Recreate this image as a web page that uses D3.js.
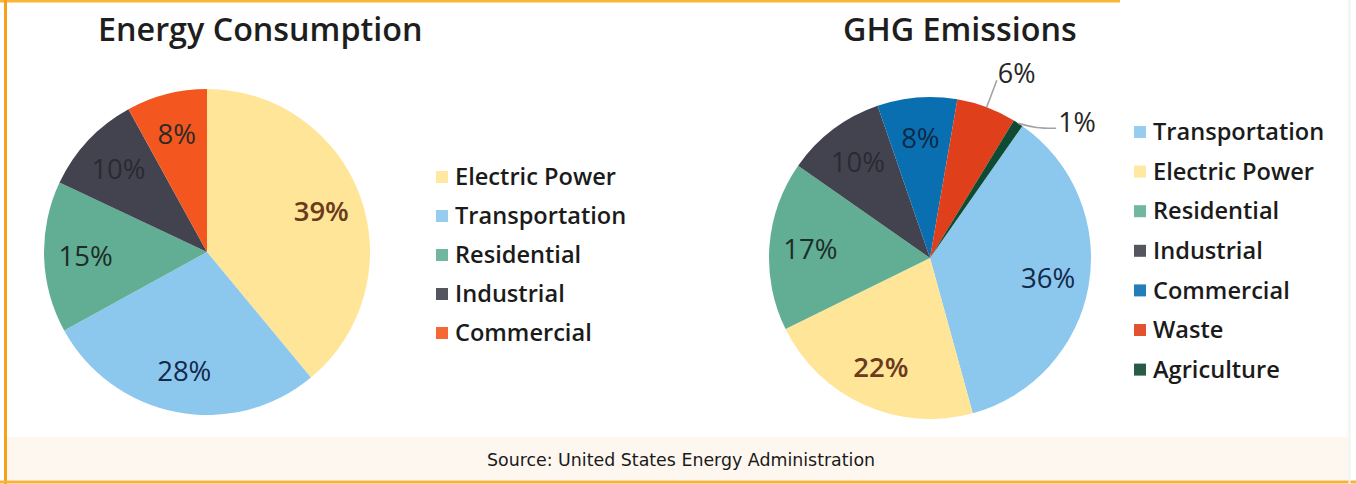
<!DOCTYPE html>
<html>
<head>
<meta charset="utf-8">
<script src="https://cdn.jsdelivr.net/npm/d3@7/dist/d3.min.js"></script>
<style>
  html, body { margin: 0; padding: 0; background: #ffffff; }
  svg { display: block; }
</style>
</head>
<body>
<svg id="chart" width="1356" height="484"></svg>
<script>
// Energy consumption by sector (percent)
const energyCategories = ["Electric Power", "Transportation", "Residential", "Industrial", "Commercial"];
const energyValues = [39, 28, 15, 10, 8];

// Greenhouse gas emissions by sector (percent)
const ghgCategories = ["Transportation", "Electric Power", "Residential", "Industrial", "Commercial", "Waste", "Agriculture"];
const ghgValues = [36, 22, 17, 10, 8, 6, 1];

const titles = ["Energy Consumption", "GHG Emissions"];
const sourceText = "Source: United States Energy Administration";

// sector colours
const sectorColor = {
  "Electric Power": "#ffe598",
  "Transportation": "#8cc7ed",
  "Residential": "#62ae95",
  "Industrial": "#43434f",
  "Commercial": "#f4561f",
  "Waste": "#df3f1b",
  "Agriculture": "#0f4a33"
};
const ghgColor = Object.assign({}, sectorColor, { "Commercial": "#0a6fb1" });

const labelColor = {
  "Electric Power": "#6a3b1c",
  "Transportation": "#12294a",
  "Residential": "#1d2d27",
  "Industrial": "#2a2a33",
  "Commercial": "#2e2a28"
};
const ghgLabelColor = Object.assign({}, labelColor, { "Commercial": "#0b2a47" });

const svg = d3.select("#chart");
const W = 1356, H = 484;
const FONT = "'Open Sans', 'Noto Sans', sans-serif";

// footer band and page frame
svg.append("rect").attr("x", 0).attr("y", 0).attr("width", W).attr("height", H).attr("fill", "#ffffff");
svg.append("rect").attr("x", 6).attr("y", 437).attr("width", W - 14).attr("height", 43).attr("fill", "#fef7f0");
svg.append("line").attr("x1", 0).attr("x2", 1120).attr("y1", 1).attr("y2", 1)
  .attr("stroke", "#f8b536").attr("stroke-width", 3);
svg.append("line").attr("x1", 5.5).attr("x2", 5.5).attr("y1", 0).attr("y2", H)
  .attr("stroke", "#f6a11c").attr("stroke-width", 3);
svg.append("line").attr("x1", 0).attr("x2", W).attr("y1", 482).attr("y2", 482)
  .attr("stroke", "#f8b23a").attr("stroke-width", 3);
svg.append("line").attr("x1", 1349.5).attr("x2", 1349.5).attr("y1", 0).attr("y2", H)
  .attr("stroke", "#f3f1ea").attr("stroke-width", 2);

function drawPie(opts) {
  const { cx, cy, r, categories, values, startDeg, colors, labelColors, title, titleX, legendX, legendY, legendStep, callouts } = opts;
  const data = categories.map((c, i) => ({ name: c, value: values[i] }));
  const start = startDeg * Math.PI / 180;
  const pie = d3.pie().sort(null).value(d => d.value)
    .startAngle(start).endAngle(start + 2 * Math.PI);
  const arcs = pie(data);
  const arc = d3.arc().innerRadius(0).outerRadius(r);
  const labelArc = d3.arc().innerRadius(r * 0.745).outerRadius(r * 0.745);

  const g = svg.append("g").attr("transform", `translate(${cx},${cy})`);
  g.selectAll("path.slice").data(arcs).join("path")
    .attr("class", "slice")
    .attr("d", arc)
    .attr("fill", d => colors[d.data.name]);

  // inside labels
  g.selectAll("text.pct").data(arcs.filter(d => !callouts[d.data.name])).join("text")
    .attr("class", "pct")
    .attr("transform", d => `translate(${labelArc.centroid(d)})`)
    .attr("text-anchor", "middle")
    .attr("dy", "0.36em")
    .attr("font-family", FONT)
    .attr("font-size", 27.5)
    .attr("font-weight", d => d.data.name === "Electric Power" ? 600 : 400)
    .attr("fill", d => labelColors[d.data.name])
    .text(d => d.data.value + "%");

  // callout labels for thin slices
  arcs.filter(d => callouts[d.data.name]).forEach(d => {
    const mid = (d.startAngle + d.endAngle) / 2;
    const pt = (rad) => [Math.sin(mid) * rad, -Math.cos(mid) * rad];
    const edge = pt(r);
    let pts, lx, ly;
    if (callouts[d.data.name] === "radial") {
      const out = pt(r * 1.18);
      pts = [edge, out];
      lx = out[0] + 1; ly = out[1] - 7;
    } else {
      const end = [edge[0] + 38, edge[1] + 5];
      pts = [edge, [edge[0] + 18, edge[1] + 5], end];
      lx = end[0] + 2; ly = end[1] - 6;
    }
    g.append("path")
      .attr("d", d3.line().curve(d3.curveBasis)(pts))
      .attr("fill", "none")
      .attr("stroke", "#a3a3a3")
      .attr("stroke-width", 1.6);
    g.append("text")
      .attr("x", lx).attr("y", ly)
      .attr("text-anchor", "start")
      .attr("dy", "0.36em")
      .attr("font-family", FONT)
      .attr("font-size", 27)
      .attr("fill", "#262626")
      .text(d.data.value + "%");
  });

  // title
  svg.append("text")
    .attr("x", titleX).attr("y", 41)
    .attr("font-family", FONT)
    .attr("font-size", 32.3)
    .attr("font-weight", 600)
    .attr("fill", "#1e1e1e")
    .text(title);

  // legend
  const lg = svg.append("g").attr("transform", `translate(${legendX},${legendY})`);
  const item = lg.selectAll("g").data(categories).join("g")
    .attr("transform", (d, i) => `translate(0,${i * legendStep})`);
  item.append("rect")
    .attr("x", 0).attr("y", -6).attr("width", 12).attr("height", 12)
    .attr("fill", d => colors[d]).attr("opacity", 0.9);
  item.append("text")
    .attr("x", 19).attr("y", 0).attr("dy", "0.35em")
    .attr("font-family", FONT)
    .attr("font-size", 23.6)
    .attr("font-weight", 600)
    .attr("fill", "#1b1b1b")
    .text(d => d);
}

drawPie({
  cx: 207, cy: 252, r: 163,
  categories: energyCategories, values: energyValues, startDeg: 0,
  colors: sectorColor, labelColors: labelColor,
  title: titles[0], titleX: 98,
  legendX: 436, legendY: 177, legendStep: 39,
  callouts: {}
});

drawPie({
  cx: 930, cy: 258, r: 161,
  categories: ghgCategories, values: ghgValues, startDeg: 35,
  colors: ghgColor, labelColors: ghgLabelColor,
  title: titles[1], titleX: 843,
  legendX: 1134, legendY: 132, legendStep: 39.6,
  callouts: { "Waste": "radial", "Agriculture": "elbow" }
});

svg.append("text")
  .attr("x", 487).attr("y", 466)
  .attr("font-family", "'DejaVu Sans', sans-serif")
  .attr("font-size", 17.4)
  .attr("fill", "#1a1a1a")
  .text(sourceText);
</script>
</body>
</html>
